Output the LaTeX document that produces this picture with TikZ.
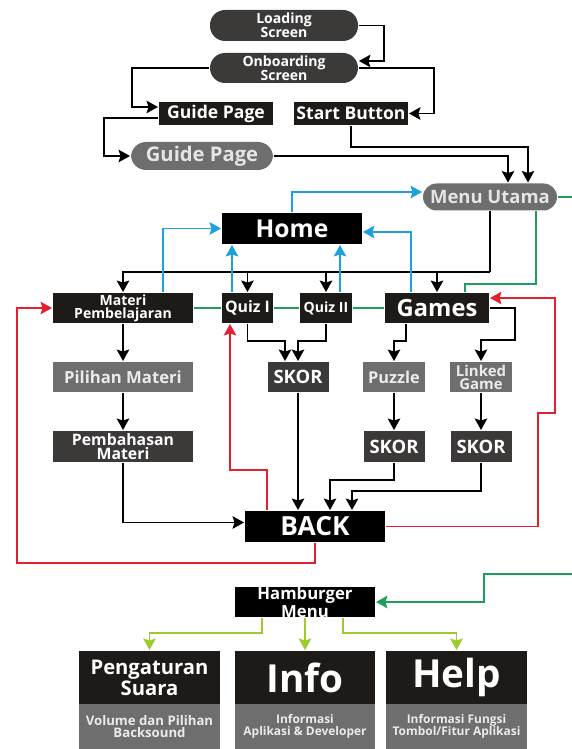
\documentclass[tikz,border=0pt]{standalone}
\usepackage{fontspec}
\setmainfont{Open Sans}
\usetikzlibrary{positioning, calc, arrows.meta}
\definecolor{boxblack}{HTML}{1E1A18}
\definecolor{pillgrey}{HTML}{6E6E6E}
\definecolor{darkgrey}{HTML}{3C3939}
\definecolor{linkblue}{HTML}{1CA0E0}
\definecolor{linkgreen}{HTML}{1FA05A}
\definecolor{linkred}{HTML}{E3202F}
\definecolor{linklime}{HTML}{9BCB2F}
\newcommand{\fsz}[2]{\fontsize{#1}{#2}\selectfont\bfseries}
\tikzset{every picture/.style={line width=1.1pt}}

\begin{document}
\begin{tikzpicture}[x=0.02cm, y=-0.02cm, >={Stealth[length=0.23cm, width=0.25cm, inset=0.04cm]},
    box/.style={fill=boxblack, text=white, inner sep=0pt, align=center, minimum height=0.6cm},
    greybox/.style={box, fill=pillgrey, text=white!92!black},
    skorbox/.style={box, fill=darkgrey},
    pill/.style={box, fill=darkgrey, rounded corners=0.3cm},
    greypill/.style={pill, fill=pillgrey, text=white!90!black},
    cardsub/.style={greybox, minimum width=2.82cm, minimum height=0.9cm},
    blueline/.style={linkblue}, greenline/.style={linkgreen},
    redline/.style={linkred}, limeline/.style={linklime}]
    \useasboundingbox (0,0) rectangle (571,749);

    % start
    \node[pill, minimum width=2.96cm, minimum height=0.62cm, font=\fsz{8}{8}] (loading) at (284,25.5) {Loading\\Screen};
    \node[pill, minimum width=2.96cm, font=\fsz{8}{8}] (onboard) at (284,68) {Onboarding\\Screen};
    \node[box, minimum width=2.28cm, minimum height=0.46cm, font=\fsz{10}{10}] (guidebox) at (216,113.5) {Guide Page};
    \node[box, minimum width=2.28cm, minimum height=0.46cm, font=\fsz{10}{10}] (start) at (351,113.5) {Start Button};
    \node[greypill, minimum width=2.84cm, minimum height=0.56cm, font=\fsz{11.5}{12}] (guidepill) at (202,156) {Guide Page};
    \node[greypill, minimum width=2.68cm, minimum height=0.54cm, rounded corners=0.27cm, font=\fsz{10.5}{11}] (menu) at (490,197) {Menu Utama};

    \draw[->] (loading.east) -- ++(25,0) |- ($(onboard.east)+(0,-7)$);
    \draw[->] (onboard.west) -- ++(-77,0) |- ($(guidebox.west)+(0,-6.5)$);
    \draw[->] (onboard.east) -- ++(75,0) |- (start.east);
    \draw[->] ($(guidebox.west)+(0,4.5)$) -- ++(-54,0) |- (guidepill.west);
    \draw[->] (start.south) -- ++(0,21) -| ($(menu.north)+(38,0)$);
    \draw[->] (guidepill.east) -| ($(menu.north)+(18,0)$);

    % menu utama
    \node[box, fill=black, minimum width=2.8cm, minimum height=0.62cm, font=\fsz{14}{14}] (home) at (292,228.5) {Home};
    \node[box, minimum width=2.8cm, font=\fsz{8}{7.5}] (materi) at (123,308) {Materi\\Pembelajaran};
    \node[box, minimum width=1.02cm, font=\fsz{9}{9}] (quizone) at (247.5,308) {Quiz I};
    \node[box, minimum width=1.04cm, font=\fsz{8}{8}] (quiztwo) at (326,308) {Quiz II};
    \node[box, minimum width=2.08cm, font=\fsz{13.5}{14}] (games) at (437,308) {Games};
    \coordinate (menubus) at (490,272);

    \draw (menu.south) -- (menubus);
    \draw[->] (menubus) -| (materi.north);
    \draw[->] (menubus) -| (quizone.north);
    \draw[->] (menubus) -| (quiztwo.north);
    \draw[->] (menubus) -| (games.north);
    \draw[greenline] ($(menu.south)+(46,0)$) -- ++(0,72.5) -| ($(games.north)+(28,0)$);
    \draw[greenline] (materi.east) -- (quizone.west) (quizone.east) -- (quiztwo.west) (quiztwo.east) -- (games.west);

    \draw[blueline, ->] (home.north) |- ($(menu.west)+(0,-5)$);
    \draw[blueline, ->] ($(materi.north)+(40,0)$) |- (home.west);
    \draw[blueline, ->] ($(quizone.north)+(-15.5,0)$) coordinate (qa) -- (qa |- home.south);
    \draw[blueline, ->] ($(quiztwo.north)+(14,0)$) coordinate (qb) -- (qb |- home.south);
    \draw[blueline, ->] ($(games.north)+(-26,0)$) |- ($(home.east)+(0,3.5)$);

    % materi, quiz, games
    \node[greybox, minimum width=2.8cm, font=\fsz{9.5}{10}] (pilihan) at (123,377) {Pilihan Materi};
    \node[skorbox, minimum width=2.8cm, minimum height=0.62cm, font=\fsz{9}{8}] (pembahasan) at (123,446.5) {Pembahasan\\Materi};
    \node[skorbox, minimum width=1.22cm, font=\fsz{10.5}{11}] (skorquiz) at (298,377) {SKOR};
    \node[greybox, minimum width=1.24cm, font=\fsz{9.3}{10}] (puzzle) at (394,377) {Puzzle};
    \node[greybox, minimum width=1.24cm, font=\fsz{8.5}{7.5}] (linked) at (481,377) {Linked\\Game};
    \node[skorbox, minimum width=1.22cm, minimum height=0.62cm, font=\fsz{10.5}{11}] (skorpuzzle) at (394,446.5) {SKOR};
    \node[skorbox, minimum width=1.22cm, minimum height=0.62cm, font=\fsz{10.5}{11}] (skorlinked) at (481,446.5) {SKOR};
    \node[box, fill=black, minimum width=2.8cm, minimum height=0.62cm, font=\fsz{15}{15}] (back) at (315,526.5) {BACK};

    \draw[->] (materi.south) -- (pilihan.north);
    \draw[->] (pilihan.south) -- (pembahasan.north);
    \draw[->] (quizone.south) -- ++(0,17) -| ($(skorquiz.north)+(-13,0)$);
    \draw[->] (quiztwo.south) -- ++(0,17) -| (skorquiz.north);
    \draw[->] ($(games.south)+(-31,0)$) -- ++(0,17) -| (puzzle.north);
    \draw[->] (games.east) -- ++(25,0) -- ++(0,32) -| (linked.north);
    \draw[->] (puzzle.south) -- (skorpuzzle.north);
    \draw[->] (linked.south) -- (skorlinked.north);
    \draw[->] (skorquiz.south) -- (skorquiz.south |- back.north);
    \draw[->] (skorpuzzle.south) -- ++(0,17) -| ($(back.north)+(15,0)$);
    \draw[->] (skorlinked.south) -- ++(0,28) -| ($(back.north)+(37,0)$);
    \draw[->] (pembahasan.south) |- ($(back.west)+(0,-4)$);

    \draw[redline, ->] ($(back.north)+(-48,0)$) -- ++(0,-40) -| ($(quizone.south)+(-17.5,0)$);
    \draw[redline, ->] (back.south) -- ++(0,20) -- ++(-298,0) |- (materi.west);
    \draw[redline, ->] (back.east) -- ++(152,0) -- ++(0,-113.5) -- ++(17,0) |- ($(games.east)+(0,-10)$);

    % hamburger menu
    \node[box, fill=black, minimum width=2.8cm, font=\fsz{9.5}{7.5}] (hamburger) at (305,602) {Hamburger\\Menu};
    \node[box, minimum width=2.82cm, minimum height=1.06cm, font=\fsz{11.5}{10}] (suara) at (149.5,677.5) {Pengaturan\\Suara};
    \node[box, minimum width=2.8cm, minimum height=1.06cm, font=\fsz{22}{22}] (info) at (305,677.5) {Info};
    \node[box, minimum width=2.82cm, minimum height=1.06cm, font=\fsz{22}{22}] (help) at (456.5,677.5) {Help};
    \node[cardsub, font=\fsz{7.5}{7}] (suarasub) at (149.5,726.5) {Volume dan Pilihan\\Backsound};
    \node[cardsub, minimum width=2.8cm, font=\fsz{6.8}{7}] (infosub) at (305,726.5) {Informasi\\Aplikasi \& Developer};
    \node[cardsub, font=\fsz{6.8}{7}] (helpsub) at (456.5,726.5) {Informasi Fungsi\\Tombol/Fitur Aplikasi};

    \draw[greenline, ->] (menu.east) -- ++(17,0) -- ++(0,377) -- ++(-91,0) |- (hamburger.east);
    \draw[limeline, ->] ($(hamburger.south)+(-43,0)$) -- ++(0,15) -| (suara.north);
    \draw[limeline, ->] (hamburger.south) -- (info.north);
    \draw[limeline, ->] ($(hamburger.south)+(38,0)$) -- ++(0,15) -| (help.north);
\end{tikzpicture}
\end{document}
